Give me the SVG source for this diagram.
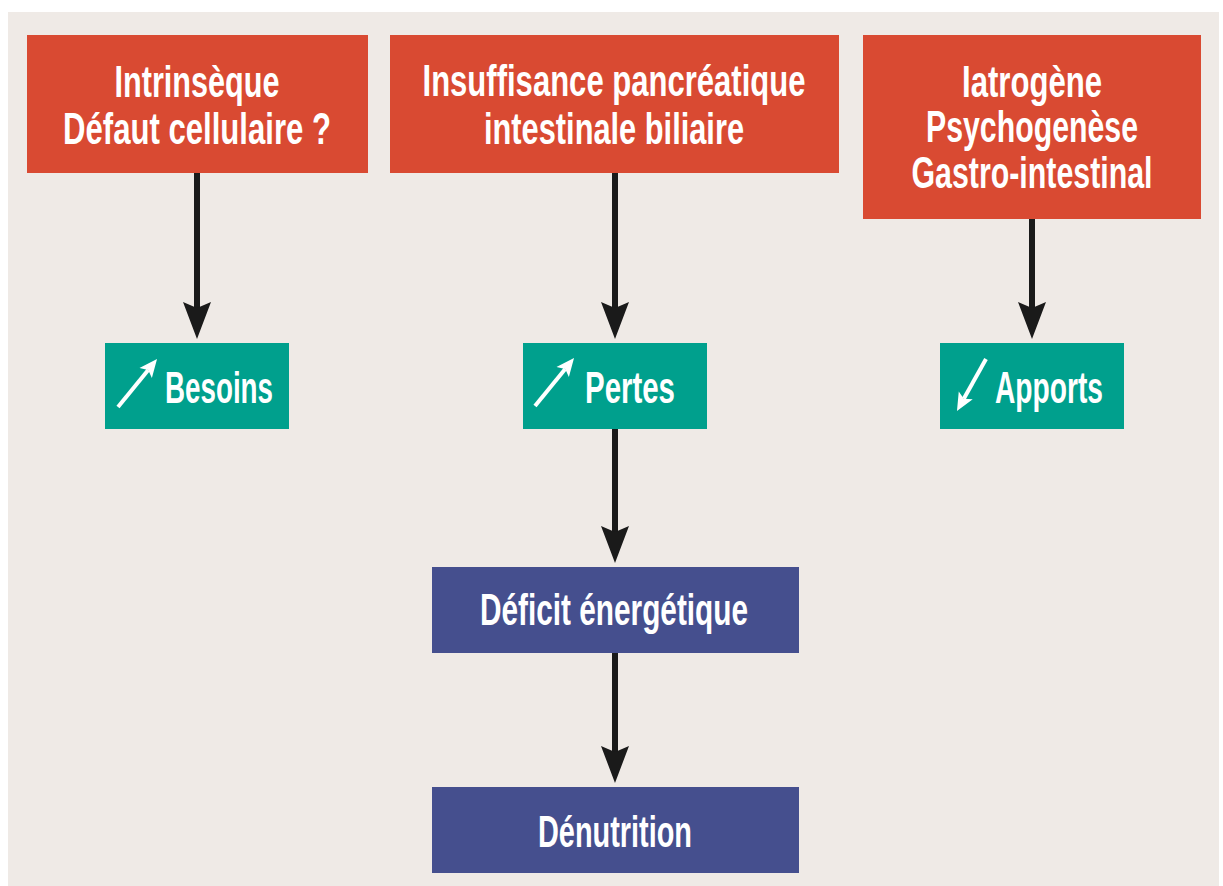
<svg xmlns="http://www.w3.org/2000/svg" width="1223" height="886" viewBox="0 0 1223 886">
<defs>
<style>
.bg{fill:#efeae6}
.red{fill:#d94a32}
.teal{fill:#00a08d}
.blue{fill:#454f8e}
.t{font-family:"Liberation Sans Narrow","Liberation Sans",Arial,sans-serif;font-weight:bold;font-size:44px;fill:#ffffff;text-anchor:middle}
.conn{stroke:#1a1a1a;stroke-width:6;fill:none}
.ico{stroke:#ffffff;stroke-width:4;fill:none}
</style>
<marker id="ah" markerUnits="userSpaceOnUse" markerWidth="40" markerHeight="30" viewBox="0 -15 40 30" refX="7" refY="0" orient="auto">
<path d="M0,-14 L37,0 L0,14 L6,0 z" fill="#1a1a1a"/>
</marker>
<marker id="wh" markerUnits="userSpaceOnUse" markerWidth="20" markerHeight="18" viewBox="0 -9 20 18" refX="4" refY="0" orient="auto">
<path d="M0,-8 L18,0 L0,8 L4,0 z" fill="#ffffff"/>
</marker>
</defs>
<rect class="bg" x="8" y="12" width="1211" height="874"/>
<g id="connectors">
<line class="conn" x1="197" y1="173" x2="197" y2="309" marker-end="url(#ah)"/>
<line class="conn" x1="615" y1="173" x2="615" y2="309" marker-end="url(#ah)"/>
<line class="conn" x1="1032" y1="219" x2="1032" y2="309" marker-end="url(#ah)"/>
<line class="conn" x1="615" y1="429" x2="615" y2="533" marker-end="url(#ah)"/>
<line class="conn" x1="615" y1="653" x2="615" y2="753" marker-end="url(#ah)"/>
</g>
<g id="n-intrinseque">
<rect class="red" x="27" y="35" width="341" height="138"/>
<text class="t" x="197" y="97" textLength="165" lengthAdjust="spacingAndGlyphs">Intrinsèque</text>
<text class="t" x="197" y="144" textLength="268" lengthAdjust="spacingAndGlyphs">Défaut cellulaire ?</text>
</g>
<g id="n-insuffisance">
<rect class="red" x="390" y="35" width="449" height="138"/>
<text class="t" x="614" y="96" textLength="383" lengthAdjust="spacingAndGlyphs">Insuffisance pancréatique</text>
<text class="t" x="614" y="144" textLength="260" lengthAdjust="spacingAndGlyphs">intestinale biliaire</text>
</g>
<g id="n-iatrogene">
<rect class="red" x="863" y="35" width="338" height="184"/>
<text class="t" x="1032" y="97" textLength="140" lengthAdjust="spacingAndGlyphs">Iatrogène</text>
<text class="t" x="1032" y="142" textLength="212" lengthAdjust="spacingAndGlyphs">Psychogenèse</text>
<text class="t" x="1032" y="188" textLength="241" lengthAdjust="spacingAndGlyphs">Gastro-intestinal</text>
</g>
<g id="n-besoins">
<rect class="teal" x="105" y="343" width="184" height="86"/>
<line class="ico" x1="118" y1="407" x2="148.2" y2="369.9" marker-end="url(#wh)"/>
<text class="t" x="219" y="403" textLength="108" lengthAdjust="spacingAndGlyphs">Besoins</text>
</g>
<g id="n-pertes">
<rect class="teal" x="523" y="343" width="184" height="86"/>
<line class="ico" x1="535" y1="406" x2="565.2" y2="368.9" marker-end="url(#wh)"/>
<text class="t" x="630" y="403" textLength="90" lengthAdjust="spacingAndGlyphs">Pertes</text>
</g>
<g id="n-apports">
<rect class="teal" x="940" y="343" width="184" height="86"/>
<line class="ico" x1="986" y1="359" x2="963.8" y2="398.8" marker-end="url(#wh)"/>
<text class="t" x="1049" y="403" textLength="108" lengthAdjust="spacingAndGlyphs">Apports</text>
</g>
<g id="n-deficit">
<rect class="blue" x="432" y="567" width="367" height="86"/>
<text class="t" x="614" y="625" textLength="268" lengthAdjust="spacingAndGlyphs">Déficit énergétique</text>
</g>
<g id="n-denutrition">
<rect class="blue" x="432" y="787" width="367" height="86"/>
<text class="t" x="615" y="847" textLength="154" lengthAdjust="spacingAndGlyphs">Dénutrition</text>
</g>
</svg>
